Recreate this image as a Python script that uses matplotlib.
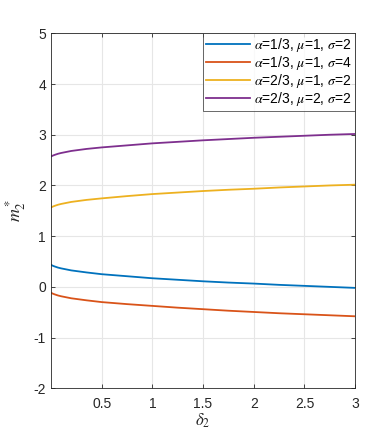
import numpy as np
import matplotlib
matplotlib.use('Agg')
import matplotlib.pyplot as plt

plt.rcParams['font.family'] = ['Liberation Sans', 'DejaVu Sans']
plt.rcParams['mathtext.fontset'] = 'stix'
plt.rcParams['axes.unicode_minus'] = False

# delta_2 sample points
delta2 = [0.005, 0.02, 0.04, 0.07, 0.1, 0.2, 0.35, 0.5, 0.75, 1.0, 1.25, 1.5,
          1.75, 2.0, 2.25, 2.5, 2.75, 3.0]

m_a13_mu1_s2 = [0.43, 0.415, 0.40, 0.38, 0.365, 0.325, 0.285, 0.25, 0.21, 0.17,
                0.14, 0.11, 0.085, 0.065, 0.04, 0.02, 0.0, -0.02]
m_a13_mu1_s4 = [-0.12, -0.135, -0.15, -0.17, -0.185, -0.225, -0.265, -0.30, -0.34,
                -0.375, -0.41, -0.44, -0.47, -0.495, -0.52, -0.54, -0.56, -0.58]
m_a23_mu1_s2 = [1.57, 1.585, 1.60, 1.62, 1.635, 1.675, 1.715, 1.745, 1.79, 1.83,
                1.86, 1.89, 1.915, 1.935, 1.96, 1.98, 2.00, 2.015]
m_a23_mu2_s2 = [2.575, 2.59, 2.605, 2.625, 2.64, 2.68, 2.72, 2.75, 2.79, 2.83,
                2.86, 2.89, 2.915, 2.94, 2.96, 2.98, 3.00, 3.015]

labels = [r'$\alpha$=1/3, $\mu$=1, $\sigma$=2',
          r'$\alpha$=1/3, $\mu$=1, $\sigma$=4',
          r'$\alpha$=2/3, $\mu$=1, $\sigma$=2',
          r'$\alpha$=2/3, $\mu$=2, $\sigma$=2']
colors = ['#0072BD', '#D95319', '#EDB120', '#7E2F8E']
series = [m_a13_mu1_s2, m_a13_mu1_s4, m_a23_mu1_s2, m_a23_mu2_s2]

fig = plt.figure(figsize=(3.92, 4.36), dpi=100)
ax = fig.add_axes([0.130, 0.1094, 0.776, 0.8142])

for ys, c, lab in zip(series, colors, labels):
    ax.plot(delta2, ys, color=c, lw=1.3, label=lab)

ax.set_xlim(0.0, 3)
ax.set_ylim(-2, 5)
ax.set_xticks([0.5, 1, 1.5, 2, 2.5, 3])
ax.set_xticklabels(['0.5', '1', '1.5', '2', '2.5', '3'])
ax.set_yticks(range(-2, 6))
ax.grid(True, color='#e6e6e6', lw=0.8)
ax.set_axisbelow(True)
ax.tick_params(direction='in', length=3, width=0.6, colors='#262626',
               labelsize=10, top=True, right=True)
ax.tick_params(axis='x', pad=6)
for sp in ax.spines.values():
    sp.set_color('#262626')
    sp.set_linewidth(0.6)

ax.set_xlabel(r'$\delta_2$', fontsize=12, color='#262626', labelpad=1)
ax.set_ylabel(r'$m_2^*$', fontsize=13, color='#262626', labelpad=4)

leg = ax.legend(loc='upper right', fontsize=10, frameon=True, fancybox=False,
                borderaxespad=0, handlelength=3.2, labelspacing=0.0,
                borderpad=0.2, handletextpad=0.3)
leg.get_frame().set_edgecolor('#262626')
leg.get_frame().set_linewidth(0.6)

fig.savefig('out.png', dpi=100)
